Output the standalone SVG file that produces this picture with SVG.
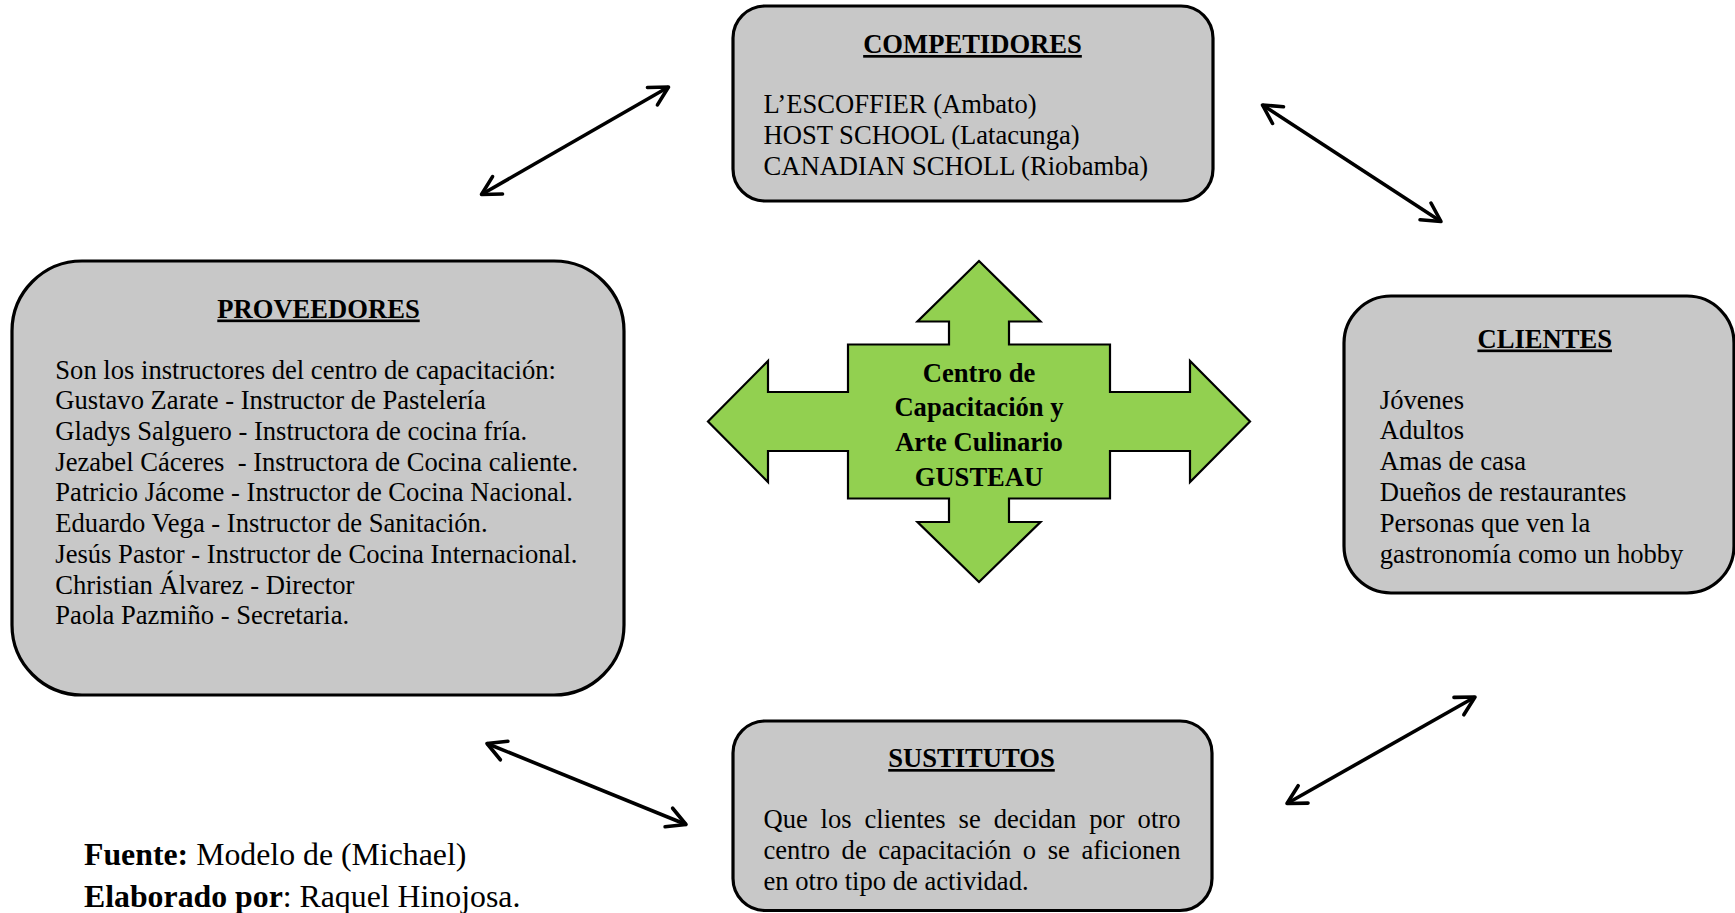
<svg xmlns="http://www.w3.org/2000/svg" width="1735" height="913" viewBox="0 0 1735 913">
<style>
.box{fill:#C8C8C8;stroke:#000;stroke-width:3.2}
.t{font-family:"Liberation Serif","Times New Roman",serif;font-size:26.6px;fill:#000}
.b{font-weight:bold}
.u{text-decoration:underline}
.c{text-anchor:middle}
.conn{stroke:#000;stroke-width:3.6;fill:none;marker-start:url(#ah);marker-end:url(#ah)}
.ft{font-family:"Liberation Serif","Times New Roman",serif;font-size:31.8px;fill:#000}
</style>
<defs>
<marker id="ah" markerUnits="userSpaceOnUse" viewBox="-24 -14 28 28" refX="0" refY="0" markerWidth="28" markerHeight="28" orient="auto-start-reverse">
<path d="M-18.5,-10 L0,0 L-18.5,10" fill="none" stroke="#000" stroke-width="3.6" stroke-linecap="round" stroke-linejoin="round"/>
</marker>
</defs>
<rect width="1735" height="913" fill="#fff"/>
<g id="connectors">
<line class="conn" x1="481.5" y1="194.5" x2="668.5" y2="87"/>
<line class="conn" x1="1262.5" y1="105" x2="1441" y2="221.5"/>
<line class="conn" x1="487" y1="743.5" x2="686" y2="824.5"/>
<line class="conn" x1="1475" y1="697" x2="1287" y2="803.5"/>
</g>
<g id="competidores">
<rect class="box" x="733" y="6" width="480" height="195" rx="32"/>
<text class="t b u c" x="972.5" y="53">COMPETIDORES</text>
<text class="t" x="763.5" y="113">L’ESCOFFIER (Ambato)</text>
<text class="t" x="763.5" y="144">HOST SCHOOL (Latacunga)</text>
<text class="t" x="763.5" y="175">CANADIAN SCHOLL (Riobamba)</text>
</g>
<g id="proveedores">
<rect class="box" x="12" y="261" width="612" height="434" rx="70"/>
<text class="t b u c" x="318.5" y="317.5">PROVEEDORES</text>
<text class="t" x="55.3" y="378.6">Son los instructores del centro de capacitación:</text>
<text class="t" x="55.3" y="409.3">Gustavo Zarate - Instructor de Pastelería</text>
<text class="t" x="55.3" y="440">Gladys Salguero - Instructora de cocina fría.</text>
<text class="t" x="55.3" y="470.7" xml:space="preserve">Jezabel Cáceres  - Instructora de Cocina caliente.</text>
<text class="t" x="55.3" y="501.4">Patricio Jácome - Instructor de Cocina Nacional.</text>
<text class="t" x="55.3" y="532.1">Eduardo Vega - Instructor de Sanitación.</text>
<text class="t" x="55.3" y="562.8">Jesús Pastor - Instructor de Cocina Internacional.</text>
<text class="t" x="55.3" y="593.5">Christian Álvarez - Director</text>
<text class="t" x="55.3" y="624.2">Paola Pazmiño - Secretaria.</text>
</g>
<g id="centro">
<path d="M979,261 L1040.5,321.5 L1009,321.5 L1009,344.5 L1110,344.5 L1110,392 L1190,392 L1190,361 L1250,421.5 L1190,482 L1190,451 L1110,451 L1110,498.5 L1009,498.5 L1009,522 L1040.5,522 L979,582 L917.5,522 L949,522 L949,498.5 L848,498.5 L848,451 L768,451 L768,482 L708,421.5 L768,361 L768,392 L848,392 L848,344.5 L949,344.5 L949,321.5 L917.5,321.5 Z" fill="#92D050" stroke="#000" stroke-width="2.2" stroke-linejoin="miter"/>
<text class="t b c" x="979" y="381.5">Centro de</text>
<text class="t b c" x="979" y="416">Capacitación y</text>
<text class="t b c" x="979" y="450.5">Arte Culinario</text>
<text class="t b c" x="979" y="485.5">GUSTEAU</text>
</g>
<g id="clientes">
<rect class="box" x="1344" y="296" width="390" height="297" rx="47"/>
<text class="t b u c" x="1544.7" y="347.5">CLIENTES</text>
<text class="t" x="1379.8" y="408.5">Jóvenes</text>
<text class="t" x="1379.8" y="439.3">Adultos</text>
<text class="t" x="1379.8" y="470.1">Amas de casa</text>
<text class="t" x="1379.8" y="500.9">Dueños de restaurantes</text>
<text class="t" x="1379.8" y="531.7">Personas que ven la</text>
<text class="t" x="1379.8" y="562.5">gastronomía como un hobby</text>
</g>
<g id="sustitutos">
<rect class="box" x="733" y="721" width="479" height="189.5" rx="32"/>
<text class="t b u c" x="971.5" y="767">SUSTITUTOS</text>
<text class="t" y="827.5"><tspan x="763.5">Que</tspan><tspan x="820.6">los</tspan><tspan x="864.5">clientes</tspan><tspan x="958.6">se</tspan><tspan x="993.7">decidan</tspan><tspan x="1089.2">por</tspan><tspan x="1137.6">otro</tspan></text>
<text class="t" y="858.5"><tspan x="763.5">centro</tspan><tspan x="841.6">de</tspan><tspan x="878.3">capacitación</tspan><tspan x="1022.8">o</tspan><tspan x="1047.7">se</tspan><tspan x="1081.5">aficionen</tspan></text>
<text class="t" x="763.5" y="889.5">en otro tipo de actividad.</text>
</g>
<g id="fuente">
<text class="ft" x="84" y="864.5"><tspan font-weight="bold">Fuente:</tspan> Modelo de (Michael)</text>
<text class="ft" x="84" y="906.5"><tspan font-weight="bold">Elaborado por</tspan>: Raquel Hinojosa.</text>
</g>
</svg>
